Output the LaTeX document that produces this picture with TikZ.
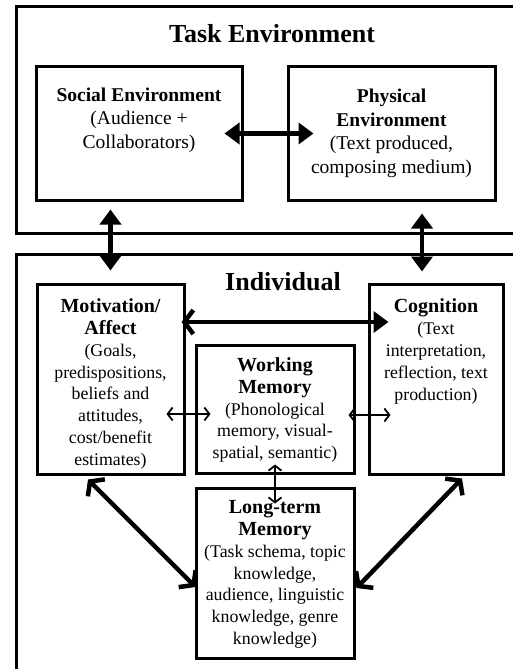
\documentclass[tikz,border=0pt]{standalone}
\usepackage{fontspec}
\setmainfont{Liberation Serif}
\usetikzlibrary{arrows.meta,calc}
\newcommand\indhead[1]{{\fontsize{20}{21.8}\selectfont\bfseries #1}}
\begin{document}
\begin{tikzpicture}[x=1pt,y=-1pt,
  box/.style={draw, line width=3pt, inner sep=0pt, rectangle},
  bigtitle/.style={inner sep=0pt, font=\fontsize{26}{30}\selectfont\bfseries},
  envtxt/.style={align=center, inner sep=0pt, font=\fontsize{19.5}{23.5}\selectfont},
  indtxt/.style={align=center, inner sep=0pt, font=\fontsize{17.8}{21.8}\selectfont},
  fatarrow/.style={line width=4.5pt, {Triangle[length=15pt,width=21pt]}-{Triangle[length=15pt,width=21pt]}},
  barbarrow/.style={line width=4.5pt, {Straight Barb[length=9pt,width=24pt]}-{Straight Barb[length=9pt,width=24pt]}},
  mixarrow/.style={line width=4.5pt, {Straight Barb[length=9pt,width=24pt]}-{Triangle[length=15pt,width=21pt]}},
  thinarrow/.style={line width=1.8pt, {Straight Barb[length=5pt,width=13pt]}-{Straight Barb[length=5pt,width=13pt]}}
]
\useasboundingbox (0,0) rectangle (513,669);
\fill[white] (0,0) rectangle (513,669);
\clip (0,0) rectangle (513,669);

% outer boxes
\node[box, minimum width=514pt, minimum height=226pt] (task) at (273,120) {};
\node[box, minimum width=514pt, minimum height=446pt] (indiv) at (273,477) {};
\node[bigtitle] (tasktitle) at (272,34) {Task Environment};
\node[bigtitle] (indivtitle) at (283,282) {Individual};

% task environment boxes
\node[box, minimum width=206pt, minimum height=133pt] (social) at (139,133.5) {};
\node[box, minimum width=207pt, minimum height=133pt] (physical) at (391.5,133.5) {};
\node[envtxt] (socialtxt) at (139,120) {\textbf{Social Environment}\\(Audience +\\Collaborators)};
\node[envtxt] (physicaltxt) at (391.5,133.5) {\textbf{Physical}\\\textbf{Environment}\\(Text produced,\\composing medium)};

% individual boxes
\node[box, minimum width=147pt, minimum height=190pt] (mot) at (110.5,379) {};
\node[box, minimum width=158pt, minimum height=128pt] (wm) at (275,409) {};
\node[box, minimum width=134pt, minimum height=190pt] (cog) at (436,379) {};
\node[box, minimum width=158pt, minimum height=170pt] (ltm) at (275,573) {};

\node[indtxt] (mottxt) at (110.5,384) {\indhead{Motivation/}\\\indhead{Affect}\\(Goals,\\predispositions,\\beliefs and\\attitudes,\\cost/benefit\\estimates)};
\node[indtxt] (wmtxt) at (275,410) {\indhead{Working}\\\indhead{Memory}\\(Phonological\\memory, visual-\\spatial, semantic)};
\node[indtxt] (cogtxt) at (436,351.5) {\indhead{Cognition}\\(Text\\interpretation,\\reflection, text\\production)};
\node[indtxt] (ltmtxt) at (275,574.5) {\indhead{Long-term}\\\indhead{Memory}\\(Task schema, topic\\knowledge,\\audience, linguistic\\knowledge, genre\\knowledge)};

% connectors
\draw[fatarrow] ($(social.east)+(-19,0)$) -- ($(physical.west)+(27,0)$);
\draw[fatarrow] ($(mot.north |- social.south)+(0,8)$) -- ($(mot.north)+(0,-12)$);
\draw[fatarrow] ($(physical.south)+(30.5,12)$) -- ($(cog.north)+(-14,-11)$);
\draw[mixarrow] ($(mot.east)+(-4,-57)$) -- ($(cog.west)+(21,-57)$);
\draw[thinarrow] ($(mot.east)+(-19,35)$) -- ($(wm.west)+(16,5)$);
\draw[thinarrow] ($(wm.east)+(-7,6)$) -- ($(cog.west)+(23,36)$);
\draw[thinarrow] ($(wm.south)+(0,-10)$) -- ($(ltm.north)+(0,17)$);
\draw[barbarrow] ($(mot.south)+(-22.5,4)$) -- ($(ltm.west)+(1,14)$);
\draw[barbarrow] ($(cog.south)+(26,3)$) -- ($(ltm.east)+(1,15)$);
\end{tikzpicture}
\end{document}
